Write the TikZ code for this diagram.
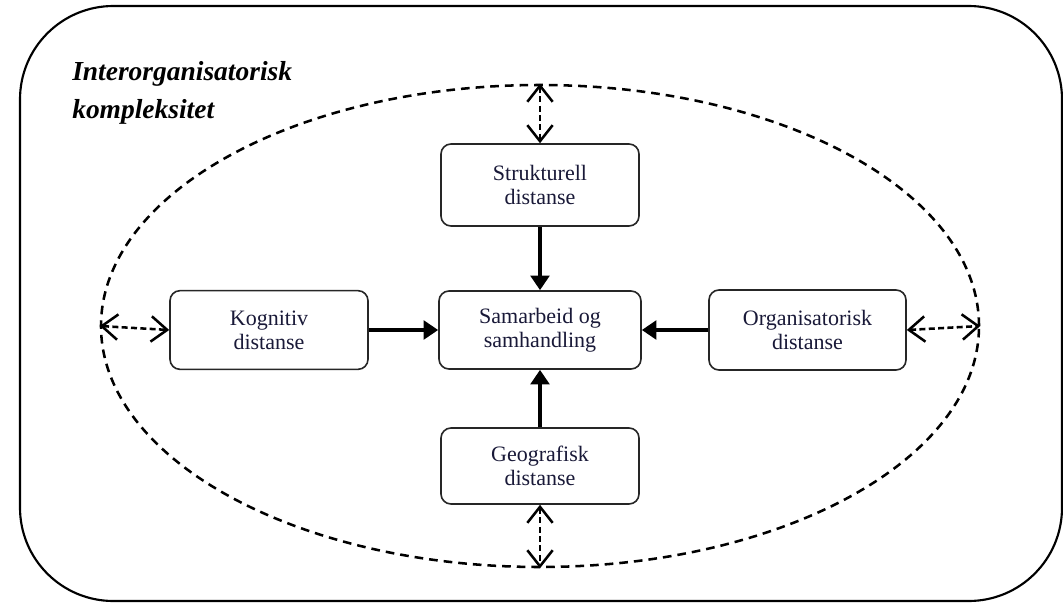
\documentclass[tikz,border=0pt]{standalone}
\usepackage{fontspec}
\setmainfont{Liberation Serif}
\usetikzlibrary{arrows.meta,shapes.geometric}
\definecolor{txt}{rgb}{0.10,0.10,0.22}
\begin{document}
\begin{tikzpicture}[x=0.75pt,y=-0.75pt,
  distbox/.style={draw=black!85,line width=1.2pt,rounded corners=7.5pt,fill=white,
    align=center,text=txt,font=\fontsize{16.5}{18}\selectfont,
    minimum width=148.5pt,minimum height=60pt,inner sep=0pt},
  solidarrow/.style={line width=3pt,-{Triangle[length=11pt,width=14pt]}},
  dasharrow/.style={line width=1.9pt,dash pattern=on 4.5pt off 2.5pt,
    {Straight Barb[length=12pt,width=19pt]}-{Straight Barb[length=12pt,width=19pt]}},
  titletext/.style={font=\fontsize{20.6}{24}\selectfont\bfseries\itshape,anchor=base west,inner sep=0pt}]
\useasboundingbox (0,0) rectangle (1063,603);
% outer frame
\draw[line width=1.6pt,rounded corners=70pt] (20,6) rectangle (1062,601);
% ellipse
\node[draw,ellipse,line width=1.9pt,dash pattern=on 6.5pt off 4.5pt,
  minimum width=658.5pt,minimum height=361.5pt,inner sep=0pt] (ell) at (540,326) {};
% title
\node[titletext] (t1) at (72,80) {Interorganisatorisk};
\node[titletext] (t2) at (72,118) {kompleksitet};
% boxes
\node[distbox,minimum height=61.5pt] (str) at (540,185) {Strukturell\\distanse};
\node[distbox,minimum height=59pt] (kog) at (269,330) {Kognitiv\\distanse};
\node[distbox,minimum width=151.5pt,minimum height=58.5pt] (sam) at (540,330) {Samarbeid og\\samhandling};
\node[distbox,minimum width=147.75pt] (org) at (807.5,330) {Organisatorisk\\distanse};
\node[distbox,minimum height=57pt] (geo) at (540,466) {Geografisk\\distanse};
% solid arrows
\draw[solidarrow] (str.south) -- (sam.north);
\draw[solidarrow] (geo.north) -- (sam.south);
\draw[solidarrow] (kog.east) -- (sam.west);
\draw[solidarrow] (org.west) -- (sam.east);
% dashed double arrows
\draw[dasharrow] (ell.north) -- (str.north);
\draw[dasharrow] (geo.south) -- (ell.south);
\draw[dasharrow] (ell.west) -- (kog.west);
\draw[dasharrow] (org.east) -- (ell.east);
\end{tikzpicture}
\end{document}
